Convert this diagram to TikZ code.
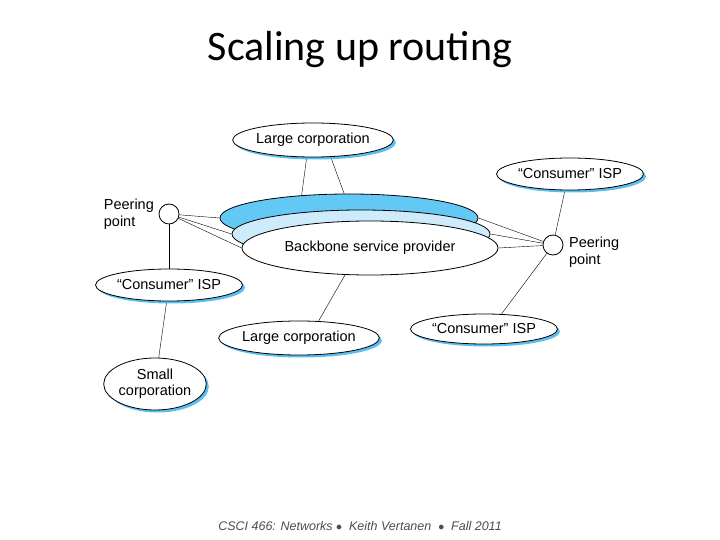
\documentclass[tikz,border=0pt]{standalone}
\usepackage{fontspec}
\setmainfont{Liberation Sans}
\newfontfamily\titlefont{Carlito}
\usetikzlibrary{shapes.geometric, shadows, backgrounds, positioning}
\definecolor{shadowblue}{RGB}{90,190,240}
\definecolor{ringdark}{RGB}{100,200,245}
\definecolor{ringlight}{RGB}{205,235,250}

\begin{document}
\begin{tikzpicture}[x=1pt, y=-1pt, line width=0.8pt,
  site/.style={ellipse, draw, fill=white, inner sep=0pt, font=\fontsize{14.5}{16}\selectfont,
    drop shadow={fill=shadowblue, opacity=1, shadow xshift=2.5pt, shadow yshift=-2.5pt}},
  ring/.style={ellipse, draw, minimum width=258, minimum height=48},
  peer/.style={circle, draw, fill=white, minimum size=20, inner sep=0pt},
  plabel/.style={align=left, font=\fontsize{14.5}{17}\selectfont}]

  \useasboundingbox (0,0) rectangle (720,540);
  \node[font=\titlefont\fontsize{42}{46}\selectfont] (title) at (360,50) {Scaling up routing};

  % backbone rings, back to front
  \node[ring, fill=ringdark] (top) at (349,218) {};
  \node[ring, fill=ringlight] (mid) at (361,234) {};
  \node[ring, fill=white, minimum width=256, minimum height=54, font=\fontsize{14.5}{16}\selectfont] (bb) at (370,248) {Backbone service provider};

  \node[site, minimum width=152, minimum height=34] (lcA) at (313,140) {Large corporation};
  \node[site, minimum width=140, minimum height=32] (ispA) at (570,174) {``Consumer'' ISP};
  \node[site, minimum width=142, minimum height=32] (ispB) at (169,285) {``Consumer'' ISP};
  \node[site, minimum width=150, minimum height=34] (lcB) at (299,338) {Large corporation};
  \node[site, minimum width=140, minimum height=30] (ispC) at (484,329) {``Consumer'' ISP};
  \node[site, minimum width=100, minimum height=52, align=center] (small) at (155,384) {Small\\corporation};

  \node[peer] (pL) at (169,214) {};
  \node[plabel, left=1pt of pL] {Peering\\point};
  \node[peer] (pR) at (553,245) {};
  \node[plabel, right=2pt of pR, yshift=-7pt] {Peering\\point};

  \begin{scope}[on background layer, line width=0.8pt]
    \draw (307,155) -- (301,200);
    \draw (330,155) -- (352,215);
    \draw (pL) -- (top.west);
    \draw (pL) -- (mid.west);
    \draw (pL) -- (bb.west);
    \draw (pR) -- (top.east);
    \draw (pR) -- (mid.east);
    \draw (pR) -- (bb.east);
    \draw (pL) -- (ispB);
    \draw (pR) -- (565,190);
    \draw (pR) -- (500,316);
    \draw (345,275) -- (318,322);
    \draw (ispB) -- (small);
  \end{scope}

  \node[font=\itshape\fontsize{12.5}{14}\selectfont, text=black!70] (foot) at (360,526)
    {CSCI 466: Networks $\bullet$\ \ Keith Vertanen\ \ $\bullet$\ \ Fall 2011};
\end{tikzpicture}
\end{document}
